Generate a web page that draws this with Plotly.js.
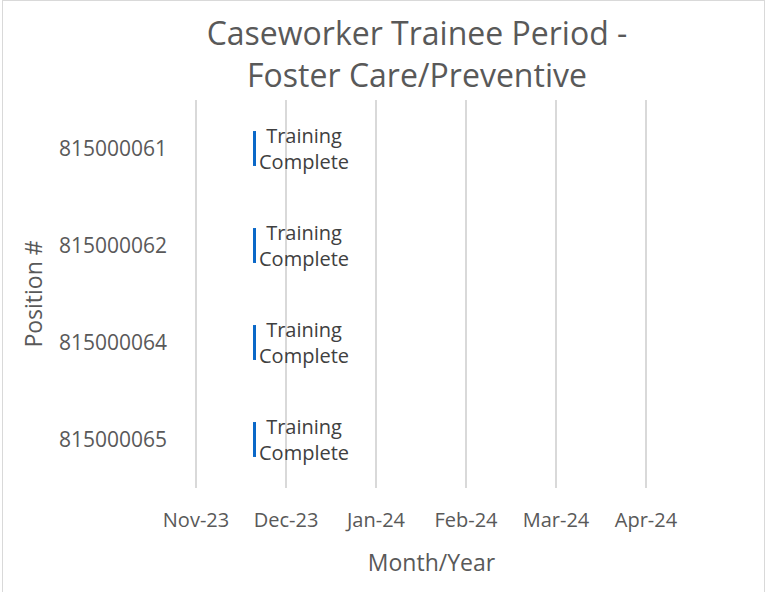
<!DOCTYPE html>
<html>
<head>
<meta charset="utf-8">
<script src="https://cdn.plot.ly/plotly-3.0.1.min.js"></script>
<style>
  html, body { margin: 0; padding: 0; background: #fff; overflow: hidden; }
  #wrap { position: relative; width: 767px; height: 592px; }
  #chart { width: 767px; height: 592px; }
  #frame { position: absolute; left: 2px; top: 0px; width: 763px; height: 620px;
           border: 1px solid #d9d9d9; pointer-events: none; box-sizing: border-box; }
</style>
</head>
<body>
<div id="wrap">
  <div id="chart"></div>
  <div id="frame"></div>
</div>
<script>
// Data
const positions = ['815000061', '815000062', '815000064', '815000065'];
const startDates = ['2023-12-04', '2023-12-04', '2023-12-04', '2023-12-04'];
const durationDays = [1, 1, 1, 1];
const barLabels = ['Training<br>Complete', 'Training<br>Complete', 'Training<br>Complete', 'Training<br>Complete'];
const axisStart = '2023-11-14';
const axisEnd = '2024-04-21';
const tickStart = '2023-11-15';
const tickStepDays = 30;

const DAY = 86400000;
const FONT = 'Open Sans, sans-serif';

const trace = {
  type: 'bar',
  orientation: 'h',
  y: positions,
  x: durationDays.map(d => d * DAY),
  base: startDates,
  text: barLabels,
  textposition: 'outside',
  constraintext: 'none',
  cliponaxis: false,
  textfont: { family: FONT, size: 20, color: '#404040' },
  marker: { color: '#0a68c8' },
  hoverinfo: 'none'
};

const layout = {
  width: 767,
  height: 592,
  margin: { l: 193, r: 97, t: 100, b: 104 },
  paper_bgcolor: '#ffffff',
  plot_bgcolor: '#ffffff',
  showlegend: false,
  bargap: 0.64,
  title: {
    text: 'Caseworker Trainee Period -<br>Foster Care/Preventive',
    font: { family: FONT, size: 32, color: '#595959' },
    x: 417 / 767, xref: 'container', xanchor: 'center',
    y: 1 - 45 / 592, yref: 'container', yanchor: 'middle'
  },
  xaxis: {
    type: 'date',
    range: [axisStart, axisEnd],
    tick0: tickStart,
    dtick: tickStepDays * DAY,
    tickformat: '%b-%y',
    showgrid: true,
    gridcolor: '#d9d9d9',
    gridwidth: 1.3,
    zeroline: false,
    showline: false,
    ticks: '',
    ticklabelstandoff: 18,
    tickfont: { family: FONT, size: 20, color: '#595959' },
    title: { text: 'Month/Year', font: { family: FONT, size: 23, color: '#595959' }, standoff: 22 },
    fixedrange: true
  },
  yaxis: {
    type: 'category',
    autorange: 'reversed',
    showgrid: false,
    zeroline: false,
    showline: false,
    ticks: '',
    ticklabelstandoff: 25,
    tickfont: { family: FONT, size: 21, color: '#595959' },
    title: { text: 'Position #', font: { family: FONT, size: 23, color: '#595959' }, standoff: 9 },
    fixedrange: true
  }
};

Plotly.newPlot('chart', [trace], layout, { displayModeBar: false, staticPlot: true });
</script>
</body>
</html>
